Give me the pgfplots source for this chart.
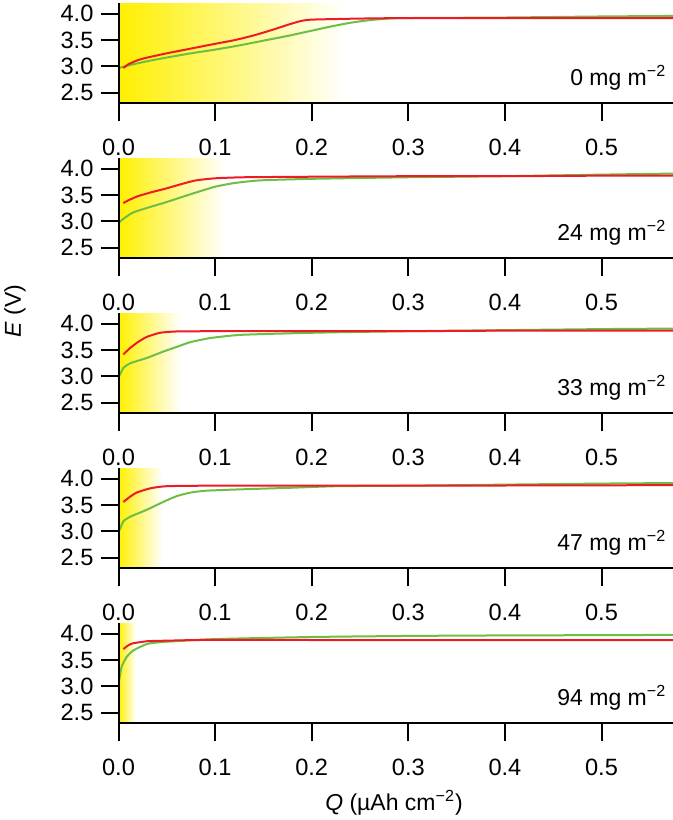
\documentclass[border=0pt]{standalone}
\usepackage{fontspec}
\setmainfont{Liberation Sans}
\usepackage{pgfplots}
\pgfplotsset{compat=1.18}

\definecolor{cred}{RGB}{237,28,36}
\definecolor{cgreen}{RGB}{108,190,69}
\definecolor{cyel}{RGB}{255,240,0}

\pgfplotsset{panel/.style={
  scale only axis, width=277.25pt, height=50pt,
  xmin=0, xmax=0.574, ymin=2.3, ymax=4.2,
  axis x line=bottom, axis y line=left,
  axis line style={-, line width=1pt, black},
  axis on top,
  tick align=outside, major tick length=9pt,
  tick style={black, line width=1pt},
  xtick={0,0.1,0.2,0.3,0.4,0.5}, ytick={2.5,3,3.5,4},
  /pgf/number format/fixed, /pgf/number format/fixed zerofill,
  /pgf/number format/precision=1, /pgf/number format/assume math mode=true,
  tick label style={font=\fontsize{11.8}{13}\selectfont},
  xticklabel style={yshift=-5.5pt},
  anchor=north west,
}}
\pgfplotsset{rline/.style={cred, line width=1pt, no markers, smooth, tension=0.35},
             gline/.style={cgreen, line width=1pt, no markers, smooth, tension=0.35}}
\newcommand{\lab}[1]{\node[anchor=base east, inner sep=0pt, font=\fontsize{11.5}{13}\selectfont] at (rel axis cs:0.9886,0.18) {#1 mg m\textsuperscript{−2}};}

\begin{document}
\begin{tikzpicture}
\useasboundingbox (-59.25pt,1.65pt) rectangle (277.25pt,-408.35pt);

% Panel 1
\begin{axis}[panel, at={(0pt,0pt)}]
\addplot[draw=none, left color=cyel, right color=white, forget plot] coordinates {(0,2.3) (0.235,2.3) (0.235,4.2) (0,4.2)} -- cycle;
\addplot[gline] coordinates {(0,2.97) (0.015,3.04) (0.03,3.10) (0.05,3.17) (0.075,3.25) (0.1,3.32) (0.125,3.40) (0.15,3.49) (0.175,3.58) (0.2,3.68) (0.22,3.76) (0.24,3.83) (0.26,3.88) (0.28,3.91) (0.3,3.92) (0.4,3.93) (0.5,3.95) (0.574,3.96)};
\addplot[rline] coordinates {(0.005,2.97) (0.01,3.04) (0.02,3.12) (0.03,3.17) (0.05,3.25) (0.075,3.34) (0.1,3.43) (0.12,3.50) (0.14,3.59) (0.16,3.70) (0.175,3.79) (0.188,3.86) (0.2,3.89) (0.25,3.91) (0.3,3.92) (0.4,3.92) (0.5,3.92) (0.574,3.92)};
\lab{0}
\end{axis}

% Panel 2
\begin{axis}[panel, at={(0pt,-77.5pt)}]
\addplot[draw=none, left color=cyel, right color=white, forget plot] coordinates {(0,2.3) (0.11,2.3) (0.11,4.2) (0,4.2)} -- cycle;
\addplot[gline] coordinates {(0,2.97) (0.005,3.05) (0.015,3.17) (0.03,3.26) (0.05,3.37) (0.075,3.52) (0.1,3.66) (0.12,3.73) (0.146,3.78) (0.2,3.81) (0.3,3.84) (0.4,3.86) (0.5,3.89) (0.574,3.91)};
\addplot[rline] coordinates {(0.005,3.35) (0.01,3.40) (0.02,3.48) (0.035,3.56) (0.05,3.63) (0.065,3.71) (0.08,3.78) (0.1,3.82) (0.13,3.84) (0.2,3.85) (0.3,3.86) (0.4,3.86) (0.5,3.87) (0.574,3.87)};
\lab{24}
\end{axis}

% Panel 3
\begin{axis}[panel, at={(0pt,-155pt)}]
\addplot[draw=none, left color=cyel, right color=white, forget plot] coordinates {(0,2.3) (0.064,2.3) (0.064,4.2) (0,4.2)} -- cycle;
\addplot[gline] coordinates {(0,2.98) (0.005,3.16) (0.012,3.25) (0.029,3.35) (0.046,3.47) (0.06,3.56) (0.074,3.65) (0.095,3.73) (0.126,3.79) (0.178,3.82) (0.226,3.84) (0.3,3.86) (0.4,3.88) (0.5,3.90) (0.574,3.91)};
\addplot[rline] coordinates {(0.005,3.42) (0.012,3.54) (0.019,3.64) (0.029,3.75) (0.043,3.83) (0.06,3.855) (0.1,3.86) (0.2,3.86) (0.3,3.86) (0.4,3.87) (0.574,3.87)};
\lab{33}
\end{axis}

% Panel 4
\begin{axis}[panel, at={(0pt,-232.5pt)}]
\addplot[draw=none, left color=cyel, right color=white, forget plot] coordinates {(0,2.3) (0.045,2.3) (0.045,4.2) (0,4.2)} -- cycle;
\addplot[gline] coordinates {(0,2.98) (0.005,3.19) (0.012,3.28) (0.029,3.41) (0.045,3.55) (0.06,3.67) (0.075,3.74) (0.091,3.775) (0.126,3.80) (0.178,3.83) (0.226,3.86) (0.3,3.87) (0.4,3.89) (0.5,3.91) (0.574,3.92)};
\addplot[rline] coordinates {(0.005,3.56) (0.012,3.66) (0.019,3.74) (0.033,3.82) (0.05,3.86) (0.1,3.87) (0.3,3.87) (0.574,3.88)};
\lab{47}
\end{axis}

% Panel 5
\begin{axis}[panel, at={(0pt,-310pt)}]
\addplot[draw=none, left color=cyel, right color=white, forget plot] coordinates {(0,2.3) (0.018,2.3) (0.018,4.2) (0,4.2)} -- cycle;
\addplot[gline] coordinates {(0,3.03) (0.003,3.36) (0.008,3.55) (0.015,3.68) (0.03,3.81) (0.05,3.85) (0.1,3.90) (0.2,3.94) (0.3,3.96) (0.4,3.97) (0.5,3.975) (0.574,3.98)};
\addplot[rline] coordinates {(0.005,3.71) (0.01,3.78) (0.015,3.82) (0.03,3.86) (0.05,3.87) (0.1,3.885) (0.3,3.88) (0.574,3.88)};
\lab{94}
\end{axis}

\node[font=\fontsize{11.5}{13}\selectfont] at (137.75pt,-399.85pt) {\textit{Q} (µAh cm\textsuperscript{−2})};
\node[rotate=90, font=\fontsize{11.5}{13}\selectfont] at (-51.75pt,-153.85pt) {\textit{E} (V)};
\end{tikzpicture}
\end{document}
